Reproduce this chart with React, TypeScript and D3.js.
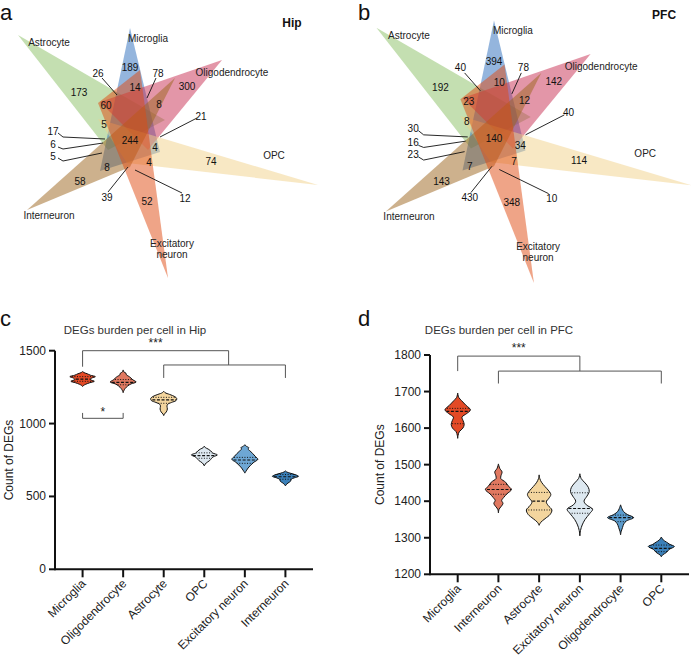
import React from 'react'
import * as d3 from 'd3'

// ---- venn data (same region order in both panels) ----
const vennSets = ['Astrocyte', 'Microglia', 'Oligodendrocyte', 'OPC', 'Excitatory neuron', 'Interneuron']
const vennColors = ['#89bf64', '#2a6cbc', '#c82e52', '#f2d289', '#e04a10', '#9b641c']
const drawOrder = [0, 1, 2, 3, 5, 4]
const hipCounts = [189, 173, 26, 14, 78, 300, 60, 8, 21, 5, 244, 17, 6, 5, 4, 4, 74, 8, 58, 39, 52, 12]
const pfcCounts = [394, 192, 40, 10, 78, 142, 23, 12, 40, 8, 140, 30, 16, 23, 34, 7, 114, 7, 143, 430, 348, 10]

// triangle shapes in venn units (centre = 0,0)
const triangles = [
  [[-112, -105], [-22, 10], [35, -20]],
  [[0, -112], [-30, 31], [30, 12]],
  [[92, -80], [-30, -38], [18, 10]],
  [[188, 45], [-32, -21], [-3, 23]],
  [[38, 138], [10, -70], [-32, -37]],
  [[-103, 70], [45, -62], [0, 27]],
]
const setLabelAt = [[-81, -98], [18, -102], [102, -68], [144, 15], [42, 103], [-81, 75]]
// where each region count sits, plus optional leader line
const regionAt = [
  [0, -73], [-51, -48], [-32, -67], [5, -53], [28, -67], [57, -54], [-24, -35], [29, -36],
  [71, -24], [-26, -16], [0, 0], [-77, -9], [-77, 4], [-77, 16], [25, 7], [19, 22],
  [81, 21], [-23, 27], [-50, 41], [-23, 57], [17, 61], [55, 58],
]
const leaders: Record<number, number[][]> = {
  2: [[-28, -62], [-13, -45]],
  4: [[26, -62], [17, -42]],
  8: [[67, -22], [30, -3]],
  11: [[-72, -7], [-67, -3], [-25, -1]],
  12: [[-72, 7], [-67, 9], [-27, 3]],
  13: [[-72, 18], [-67, 21], [-28, 13]],
  19: [[-22, 52], [-2, 27]],
  21: [[52, 53], [5, 30]],
}

// ---- violin data ----
const hipCells = ['Microglia', 'Oligodendrocyte', 'Astrocyte', 'OPC', 'Excitatory neuron', 'Interneuron']
const hipColors = ['#e34a26', '#e07860', '#f3d59e', '#dde8f0', '#6ea7d4', '#3b80b9']
const hipProfiles = [
  [[1358, 0], [1350, 0.1], [1342, 0.35], [1332, 0.6], [1322, 0.98], [1312, 0.7], [1302, 0.6], [1290, 0.9], [1280, 0.55], [1270, 0.25], [1262, 0.08], [1255, 0]],
  [[1368, 0], [1355, 0.05], [1345, 0.22], [1335, 0.25], [1320, 0.5], [1300, 0.75], [1285, 1.0], [1272, 0.6], [1258, 0.35], [1240, 0.15], [1225, 0.05], [1212, 0]],
  [[1222, 0], [1212, 0.1], [1200, 0.45], [1185, 0.85], [1172, 1.0], [1158, 0.95], [1145, 0.6], [1132, 0.3], [1120, 0.25], [1100, 0.28], [1080, 0.2], [1065, 0.05], [1055, 0]],
  [[846, 0], [835, 0.08], [825, 0.3], [812, 0.5], [798, 0.65], [785, 1.0], [772, 0.7], [760, 0.55], [745, 0.4], [730, 0.15], [715, 0.03], [709, 0]],
  [[855, 0], [845, 0.1], [835, 0.3], [825, 0.25], [812, 0.4], [795, 0.6], [775, 0.8], [755, 1.0], [735, 0.7], [715, 0.45], [695, 0.25], [675, 0.1], [660, 0]],
  [[675, 0], [668, 0.1], [660, 0.35], [648, 0.8], [638, 1.0], [628, 0.7], [618, 0.45], [605, 0.4], [592, 0.2], [580, 0.05], [572, 0]],
]
const hipQuartiles = [[1322, 1305, 1290], [1302, 1283, 1266], [1180, 1162, 1139], [799, 780, 762], [768, 750, 727], [650, 635, 618]]

const pfcCells = ['Microglia', 'Interneuron', 'Astrocyte', 'Excitatory neuron', 'Oligodendrocyte', 'OPC']
const pfcColors = ['#e34a26', '#e07860', '#f3d59e', '#dde8f0', '#5b9bcc', '#3b80b9']
const pfcProfiles = [
  [[1696, 0], [1684, 0.08], [1675, 0.3], [1662, 0.65], [1650, 0.98], [1640, 0.7], [1630, 0.33], [1620, 0.42], [1610, 0.5], [1600, 0.4], [1590, 0.12], [1580, 0.03], [1572, 0]],
  [[1502, 0], [1490, 0.1], [1480, 0.28], [1470, 0.2], [1462, 0.18], [1452, 0.55], [1442, 0.75], [1432, 1.0], [1420, 0.65], [1410, 0.4], [1402, 0.25], [1394, 0.35], [1385, 0.2], [1378, 0.05], [1368, 0]],
  [[1472, 0], [1462, 0.05], [1452, 0.18], [1440, 0.45], [1428, 0.75], [1418, 0.9], [1408, 0.75], [1398, 0.55], [1388, 0.7], [1376, 0.98], [1364, 0.85], [1352, 0.45], [1342, 0.12], [1334, 0]],
  [[1475, 0], [1462, 0.1], [1450, 0.4], [1438, 0.65], [1426, 0.72], [1414, 0.55], [1400, 0.32], [1390, 0.5], [1378, 0.98], [1366, 0.75], [1350, 0.4], [1335, 0.18], [1320, 0.05], [1305, 0]],
  [[1390, 0], [1380, 0.1], [1372, 0.22], [1364, 0.5], [1355, 1.0], [1346, 0.45], [1338, 0.25], [1328, 0.15], [1318, 0.05], [1308, 0]],
  [[1302, 0], [1294, 0.15], [1288, 0.4], [1282, 0.65], [1276, 1.0], [1268, 0.6], [1260, 0.4], [1253, 0.1], [1248, 0]],
]
const pfcQuartiles = [[1654, 1646, 1612], [1446, 1432, 1419], [1424, 1400, 1376], [1423, 1380, 1367], [1362, 1355, 1344], [1280, 1271, 1262]]

const font = 'Liberation Sans, Arial, Helvetica, sans-serif'

function Venn({ cx, cy, k, counts, tag }: any) {
  const x = d3.scaleLinear().domain([0, 1]).range([cx, cx + k])
  const y = d3.scaleLinear().domain([0, 1]).range([cy, cy + k])
  const line = d3.line<number[]>().x(d => x(d[0])).y(d => y(d[1]))
  return (
    <g fontFamily={font}>
      {drawOrder.map(i => (
        <path key={i} d={line(triangles[i]) + 'Z'} fill={vennColors[i]} fillOpacity={0.5} />
      ))}
      {vennSets.map((s, i) => {
        const p = setLabelAt[i]
        const parts = s === 'Excitatory neuron' ? ['Excitatory', 'neuron'] : [s]
        return parts.map((w, j) => (
          <text key={s + j} x={x(p[0])} y={y(p[1]) + j * 11} fontSize={10} fill="#222"
            textAnchor="middle" dominantBaseline="central">{w}</text>
        ))
      })}
      {Object.keys(leaders).map(key => (
        <path key={'l' + key} d={line(leaders[+key]) as string} fill="none" stroke="#111" strokeWidth={0.9} />
      ))}
      {counts.map((c: number, i: number) => (
        <text key={'c' + i} x={x(regionAt[i][0])} y={y(regionAt[i][1])} fontSize={10} fill="#111"
          textAnchor="middle" dominantBaseline="central">{c}</text>
      ))}
      <text x={x(162)} y={y(-113)} fontSize={12} fontWeight="bold" textAnchor="middle" fill="#111">{tag}</text>
    </g>
  )
}

function Violins({ cells, colors, profiles, quartiles, xr, yr, ydom, yticks, title, titleX, titleY, brackets, stars, id, ytOff }: any) {
  const x = d3.scalePoint<string>().domain(cells).range(xr).padding(0.68)
  const y = d3.scaleLinear().domain(ydom).range(yr)
  const hw = 13
  const axisY = yr[0]
  return (
    <g fontFamily={font}>
      <text x={titleX} y={titleY} fontSize={11.5} fill="#333" textAnchor="middle">{title}</text>
      {brackets.map((b: any, i: number) => (
        <path key={'b' + i} d={d3.line()(b.map((p: number[]) => [x(cells[0])! + (p[0] as number) * x.step(), y(p[1])]) as any) as string}
          fill="none" stroke="#555" strokeWidth={1} />
      ))}
      {stars.map((s: any, i: number) => (
        <text key={'s' + i} x={x(cells[0])! + s.at * x.step()} y={y(s.v)} fontSize={12} textAnchor="middle" fill="#222">{s.t}</text>
      ))}
      {cells.map((c: string, i: number) => {
        const cx = x(c)!
        const area = d3.area<number[]>()
          .y(d => y(d[0]))
          .x0(d => cx - d[1] * hw)
          .x1(d => cx + d[1] * hw)
          .curve(d3.curveCatmullRom)
        const d = area(profiles[i]) as string
        const q = quartiles[i]
        return (
          <g key={c}>
            <clipPath id={id + i}><path d={d} /></clipPath>
            <path d={d} fill={colors[i]} stroke="#111" strokeWidth={1} strokeLinejoin="round" />
            <g clipPath={`url(#${id + i})`} stroke="#111" strokeWidth={1}>
              <line x1={cx - 16} x2={cx + 16} y1={y(q[0])} y2={y(q[0])} strokeDasharray="1,1.6" />
              <line x1={cx - 16} x2={cx + 16} y1={y(q[1])} y2={y(q[1])} strokeDasharray="3,1.6" strokeWidth={1.2} />
              <line x1={cx - 16} x2={cx + 16} y1={y(q[2])} y2={y(q[2])} strokeDasharray="1,1.6" />
            </g>
          </g>
        )
      })}
      {/* axes */}
      <line x1={xr[0]} x2={xr[1]} y1={axisY} y2={axisY} stroke="#111" strokeWidth={2} />
      <line x1={xr[0]} x2={xr[0]} y1={axisY + 1} y2={yr[1]} stroke="#111" strokeWidth={2} />
      {yticks.map((t: number) => (
        <g key={t}>
          <line x1={xr[0] - 6} x2={xr[0]} y1={y(t)} y2={y(t)} stroke="#111" strokeWidth={2} />
          <text x={xr[0] - 9} y={y(t)} fontSize={12} textAnchor="end" dominantBaseline="central" fill="#222">{t}</text>
        </g>
      ))}
      {cells.map((c: string) => (
        <g key={'x' + c}>
          <line x1={x(c)} x2={x(c)} y1={axisY} y2={axisY + 8} stroke="#111" strokeWidth={2} />
          <text transform={`translate(${x(c)! + 4},${axisY + 15}) rotate(-45)`} fontSize={12} textAnchor="end" fill="#222">{c}</text>
        </g>
      ))}
      <text transform={`translate(${xr[0] - ytOff},${(yr[0] + yr[1]) / 2}) rotate(-90)`} fontSize={12} textAnchor="middle" dominantBaseline="central" fill="#222">Count of DEGs</text>
    </g>
  )
}

export default function App() {
  return (
    <svg width={692} height={662} style={{ position: 'absolute', left: 0, top: 0, background: '#fff' }}>
      <rect width={692} height={662} fill="#fff" />
      <g fontFamily={font} fontSize={22} fill="#111">
        <text x={0} y={20}>a</text>
        <text x={358} y={20}>b</text>
        <text x={0} y={326}>c</text>
        <text x={358} y={326}>d</text>
      </g>
      <Venn cx={130} cy={140} k={1} counts={hipCounts} tag="Hip" />
      <Venn cx={494} cy={138} k={1.05} counts={pfcCounts} tag="PFC" />
      <Violins id="hip" cells={hipCells} colors={hipColors} profiles={hipProfiles} quartiles={hipQuartiles}
        xr={[55, 313]} yr={[569.3, 350.7]} ydom={[0, 1500]} yticks={[0, 500, 1000, 1500]} ytOff={46}
        title="DEGs burden per cell in Hip" titleX={135} titleY={334}
        brackets={[
          [[0, 1390], [0, 1500], [3.6, 1500], [3.6, 1402]],
          [[2, 1313], [2, 1402], [5, 1402], [5, 1313]],
          [[0, 1073], [0, 1036], [1, 1036], [1, 1073]],
        ]}
        stars={[{ t: '***', at: 1.8, v: 1525 }, { t: '*', at: 0.5, v: 1055 }]} />
      <Violins id="pfc" cells={pfcCells} colors={pfcColors} profiles={pfcProfiles} quartiles={pfcQuartiles}
        xr={[430, 689]} yr={[574.3, 355]} ydom={[1200, 1800]} yticks={[1200, 1300, 1400, 1500, 1600, 1700, 1800]} ytOff={50}
        title="DEGs burden per cell in PFC" titleX={499} titleY={334}
        brackets={[
          [[0, 1756], [0, 1797], [3, 1797], [3, 1756]],
          [[1, 1722], [1, 1756], [5, 1756], [5, 1722]],
        ]}
        stars={[{ t: '***', at: 1.5, v: 1808 }]} />
    </svg>
  )
}
